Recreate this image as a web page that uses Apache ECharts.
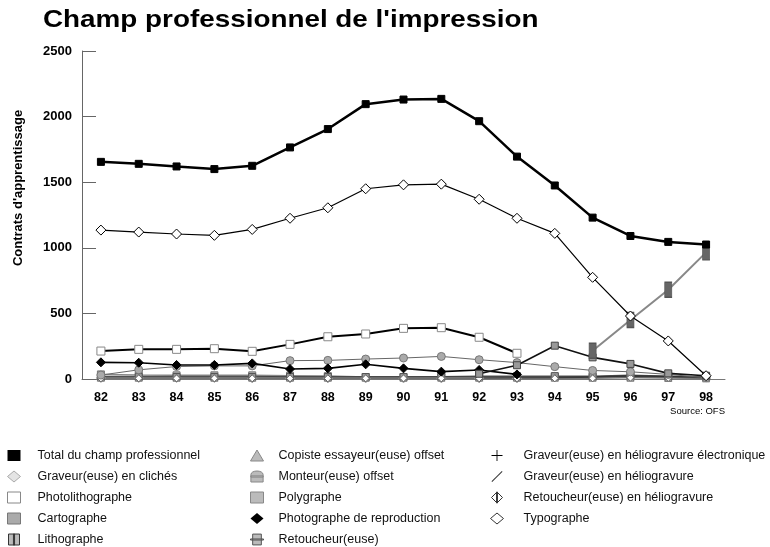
<!DOCTYPE html>
<html>
<head>
<meta charset="utf-8">
<script src="https://cdn.jsdelivr.net/npm/echarts@6/dist/echarts.min.js"></script>
<style>
  html, body { margin: 0; padding: 0; background: #fff; }
  #chart { width: 770px; height: 547px; }
</style>
</head>
<body>
<div id="chart"></div>
<script>
// years on the x axis
const years = ["82", "83", "84", "85", "86", "87", "88", "89", "90", "91", "92", "93", "94", "95", "96", "97", "98"];

// values (contrats d'apprentissage)
const total = [1655, 1640, 1620, 1600, 1625, 1765, 1905, 2095, 2130, 2135, 1965, 1695, 1475, 1230, 1090, 1045, 1025];
const typographe = [1135, 1120, 1105, 1095, 1140, 1225, 1305, 1450, 1480, 1485, 1370, 1225, 1110, 775, 480, 290, 25];
const photolitho = [213, 226, 226, 231, 211, 264, 322, 343, 386, 391, 318, 196, null, null, null, null, null];
const photoRepro = [127, 124, 107, 107, 119, 76, 81, 112, 81, 56, 69, 35, null, null, null, null, null];
const monteur = [30, 70, 95, 100, 100, 140, 142, 152, 160, 172, 147, 125, 94, 65, 55, 35, 10];
const retoucheur = [null, null, null, null, null, null, null, null, null, null, 40, 105, 254, 165, 115, 43, 25];
const polygraphe = [null, null, null, null, null, null, null, null, null, null, null, null, null, 215, 450, 680, 965];
const cartographe = [35, 30, 28, 28, 28, 25, 22, 15, 15, 15, 15, 15, 15, 15, 15, 15, 15];
const clicheurs = [8, 8, 8, 8, 5, 5, 5, 5, 5, 5, 5, 5, null, null, null, null, null];
const lithographe = [15, 15, 15, 15, 15, 15, 15, 15, 15, 18, 22, 22, 22, 22, 30, 22, 15];
const copiste = [10, 10, 10, 10, 10, 10, 10, 10, 10, 10, 10, 10, 10, 10, 10, 8, 5];
const helioElec = [null, null, null, null, null, null, null, null, null, null, 5, 8, 10, 15, 25, 20, 12];
const helio = [20, 20, 20, 20, 20, 18, 18, 18, 18, 18, 18, 18, 18, 18, 20, 15, 10];
const retoucheurHelio = [5, 5, 5, 5, 5, 5, 5, 5, 5, 5, 5, 5, 5, 5, 10, 8, 5];

const yTicks = { min: 0, max: 2500, interval: 500 };

const FONT = "Liberation Sans, Arial, Helvetica, sans-serif";

function line(name, data, o) {
  return {
    name: name,
    type: "line",
    data: data,
    showAllSymbol: true,
    symbol: o.symbol,
    symbolSize: o.size,
    lineStyle: { color: o.line, width: o.width },
    itemStyle: { color: o.fill, borderColor: o.border, borderWidth: o.bw === undefined ? 1 : o.bw },
    z: o.z || 2
  };
}

const iconLitho = "path://M0,0L10,0L10,10L0,10Z M4.5,0L5.5,0L5.5,10L4.5,10Z";
const iconRetouch = "path://M2,0L10,0L10,10L2,10Z M0,4.5L12,4.5L12,5.5L0,5.5Z";
const iconPlus = "path://M0,4.6L10,4.6L10,5.4L0,5.4Z M4.6,0L5.4,0L5.4,10L4.6,10Z";
const iconSlash = "path://M0,9.4L9.4,0L10,0.6L0.6,10Z";
const iconHelio = "path://M5,0L10,5L5,10L0,5Z M4.6,0L5.4,0L5.4,10L4.6,10Z";
const iconMonteur = "path://M0,4C0,0 10,0 10,4L10,10L0,10Z M0,5L10,5L10,6L0,6Z";

const series = [
  line("Cartographe", cartographe, { symbol: "rect", size: 7, line: "#888", width: 1.5, fill: "#aaa", border: "#777" }),
  line("Graveur(euse) en clichés", clicheurs, { symbol: "diamond", size: 9, line: "#999", width: 1, fill: "#ddd", border: "#999" }),
  line("Lithographe", lithographe, { symbol: "rect", size: 7, line: "#555", width: 1.2, fill: "#999", border: "#555" }),
  line("Copiste essayeur(euse) offset", copiste, { symbol: "triangle", size: 7, line: "#777", width: 1, fill: "#aaa", border: "#777" }),
  line("Graveur(euse) en héliogravure", helio, { symbol: "none", size: 0, line: "#444", width: 1, fill: "#444", border: "#444" }),
  line("Graveur(euse) en héliogravure électronique", helioElec, { symbol: "none", size: 0, line: "#333", width: 1.5, fill: "#333", border: "#333" }),
  line("Retoucheur(euse) en héliogravure", retoucheurHelio, { symbol: "diamond", size: 7, line: "#666", width: 1, fill: "#fff", border: "#666" }),
  line("Monteur(euse) offset", monteur, { symbol: "circle", size: 8, line: "#666", width: 1, fill: "#aaa", border: "#777" }),
  line("Photographe de reproduction", photoRepro, { symbol: "diamond", size: 9, line: "#000", width: 1.6, fill: "#000", border: "#000", z: 3 }),
  line("Retoucheur(euse)", retoucheur, { symbol: "rect", size: 7, line: "#111", width: 1.6, fill: "#999", border: "#444", z: 3 }),
  line("Polygraphe", polygraphe, { symbol: "rect", size: [7, 15], line: "#888", width: 2, fill: "#666", border: "#555", z: 4 }),
  line("Photolithographe", photolitho, { symbol: "rect", size: 8, line: "#000", width: 2, fill: "#fff", border: "#888", z: 4 }),
  line("Typographe", typographe, { symbol: "diamond", size: 10, line: "#000", width: 1.2, fill: "#fff", border: "#000", z: 5 }),
  line("Total du champ professionnel", total, { symbol: "rect", size: 7, line: "#000", width: 2.5, fill: "#000", border: "#000", z: 6 })
];

function leg(name, icon, color, border) {
  return { name: name, icon: icon, itemStyle: { color: color, borderColor: border || color, borderWidth: border ? 1 : 0 } };
}

const col1 = [
  leg("Total du champ professionnel", "rect", "#000"),
  leg("Graveur(euse) en clichés", "diamond", "#e4e4e4", "#aaa"),
  leg("Photolithographe", "rect", "#fff", "#888"),
  leg("Cartographe", "rect", "#aaa", "#777"),
  leg("Lithographe", iconLitho, "#bbb", "#333")
];
const col2 = [
  leg("Copiste essayeur(euse) offset", "triangle", "#bbb", "#888"),
  leg("Monteur(euse) offset", iconMonteur, "#bbb", "#888"),
  leg("Polygraphe", "rect", "#bbb", "#888"),
  leg("Photographe de reproduction", "diamond", "#000"),
  leg("Retoucheur(euse)", iconRetouch, "#bbb", "#555")
];
const col3 = [
  leg("Graveur(euse) en héliogravure électronique", iconPlus, "#000"),
  leg("Graveur(euse) en héliogravure", iconSlash, "#333"),
  leg("Retoucheur(euse) en héliogravure", iconHelio, "#fff", "#333"),
  leg("Typographe", "diamond", "#fff", "#333")
];

function legendCol(left, pad, data) {
  return {
    orient: "vertical",
    left: left,
    top: 449,
    height: 120,
    padding: 0,
    itemWidth: 13,
    itemHeight: 11,
    itemGap: 8,
    selectedMode: false,
    textStyle: { fontFamily: FONT, fontSize: 12.5, color: "#111", padding: [0, 0, 0, pad] },
    data: data
  };
}

const chart = echarts.init(document.getElementById("chart"));
chart.setOption({
  animation: false,
  backgroundColor: "#fff",
  legend: [legendCol(7, 12, col1), legendCol(250, 10, col2), legendCol(490, 15, col3)],
  grid: { left: 82, right: 45, top: 51, bottom: 168 },
  xAxis: {
    type: "category",
    data: years,
    boundaryGap: true,
    axisLine: { lineStyle: { color: "#777", width: 1 } },
    axisTick: { alignWithLabel: true, length: 10, lineStyle: { color: "#777" } },
    axisLabel: { margin: 12, fontFamily: FONT, fontSize: 12.5, fontWeight: "bold", color: "#000" }
  },
  yAxis: {
    type: "value",
    min: yTicks.min,
    max: yTicks.max,
    interval: yTicks.interval,
    splitLine: { show: false },
    axisLine: { show: true, lineStyle: { color: "#666", width: 1 } },
    axisTick: { show: true, inside: true, length: 14, lineStyle: { color: "#666" } },
    axisLabel: {
      margin: 10, fontFamily: FONT, fontSize: 13, fontWeight: "bold", color: "#000",
      formatter: function (v) { return String(v); }
    }
  },
  graphic: [
    {
      type: "text",
      x: 43,
      y: 20,
      scaleX: 1.16,
      style: {
        text: "Champ professionnel de l'impression",
        fontFamily: FONT, fontSize: 24, fontWeight: "bold", fill: "#000",
        align: "left", verticalAlign: "middle"
      }
    },
    {
      type: "text",
      x: 18,
      y: 188,
      rotation: Math.PI / 2,
      style: {
        text: "Contrats d'apprentissage",
        fontFamily: FONT, fontSize: 13, fontWeight: "bold", fill: "#000",
        align: "center", verticalAlign: "middle"
      }
    },
    {
      type: "text",
      right: 45,
      top: 406,
      style: { text: "Source: OFS", fontFamily: FONT, fontSize: 9.5, fill: "#000" }
    }
  ],
  series: series
});
</script>
</body>
</html>
